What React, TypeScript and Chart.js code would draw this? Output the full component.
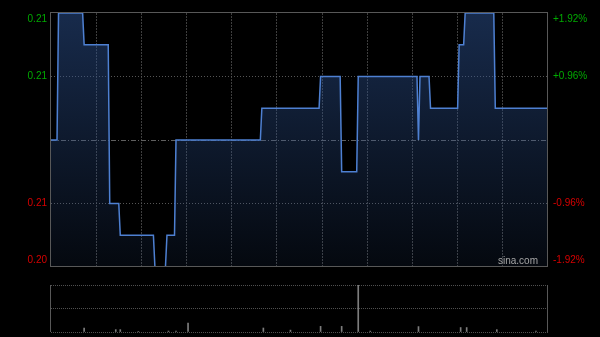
import React, { useEffect, useRef } from "react";
import { Chart, registerables } from "chart.js";
Chart.register(...registerables);

// ---- data ----
const BASE_PRICE = 0.208;
const SESSION_MINUTES = 330;
const TIME_GRID_STEP = 30;
const PRICE_TIMES = [0, 4, 5, 21, 22, 38, 39, 45, 46, 68, 69, 76, 77, 82, 83, 139, 140, 178, 179, 192, 193, 203, 204, 243, 244, 245, 251, 252, 270, 271, 274, 275, 294, 295, 330];
const PRICES = [0.208, 0.208, 0.212, 0.212, 0.211, 0.211, 0.206, 0.206, 0.205, 0.205, 0.204, 0.204, 0.205, 0.205, 0.208, 0.208, 0.209, 0.209, 0.21, 0.21, 0.207, 0.207, 0.21, 0.21, 0.208, 0.21, 0.21, 0.209, 0.209, 0.211, 0.211, 0.212, 0.212, 0.209, 0.209];
const PRICE_TICKS = [0.212, 0.21, 0.208, 0.206, 0.204];
const PRICE_LABELS = ["0.21", "0.21", "", "0.21", "0.20"];
const PCT_LABELS = ["+1.92%", "+0.96%", "", "-0.96%", "-1.92%"];
const VOL_TIMES = [22, 43, 46, 58, 78, 83, 91, 141, 159, 179, 193, 204, 212, 244, 272, 276, 296, 322];
const VOLUMES = [8.5, 5, 5, 1, 2, 2, 19, 8.5, 4, 12, 12, 100, 2, 11.5, 9.5, 9.5, 5, 2];
const VOL_MAX = 100;
const WATERMARK = "sina.com";

// ---- style ----
const FONT = '10px "Liberation Sans", Arial, sans-serif';
const UP = "rgb(0,170,0)";
const DOWN = "rgb(215,0,0)";
const BORDER = "rgb(88,88,88)";

export default function App() {
  const mainRef = useRef<HTMLCanvasElement | null>(null);
  const volRef = useRef<HTMLCanvasElement | null>(null);

  useEffect(() => {
    const mainPlugin = {
      id: "mainDeco",
      beforeDatasetsDraw(chart: any) {
        const { ctx, chartArea: a, scales } = chart;
        const y = Math.round(scales.y.getPixelForValue(BASE_PRICE)) + 0.5;
        ctx.save();
        ctx.strokeStyle = "rgb(95,95,95)";
        ctx.lineWidth = 1;
        ctx.setLineDash([5, 2, 1, 2]);
        ctx.beginPath();
        ctx.moveTo(a.left, y);
        ctx.lineTo(a.right, y);
        ctx.stroke();
        ctx.restore();
      },
      afterDraw(chart: any) {
        const { ctx, chartArea: a, scales } = chart;
        ctx.save();
        ctx.strokeStyle = BORDER;
        ctx.lineWidth = 1;
        ctx.setLineDash([]);
        ctx.strokeRect(a.left - 0.5, a.top - 0.5, a.right - a.left, a.bottom - a.top);
        ctx.font = FONT;
        ctx.textBaseline = "middle";
        PRICE_TICKS.forEach((v, i) => {
          let y = scales.y.getPixelForValue(v);
          y = Math.min(Math.max(y, a.top + 6), a.bottom - 7);
          const col = v > BASE_PRICE ? UP : DOWN;
          ctx.fillStyle = col;
          ctx.textAlign = "right";
          if (PRICE_LABELS[i]) ctx.fillText(PRICE_LABELS[i], a.left - 4, y);
          ctx.textAlign = "left";
          if (PCT_LABELS[i]) ctx.fillText(PCT_LABELS[i], a.right + 5, y);
        });
        ctx.fillStyle = "rgb(165,165,165)";
        ctx.textAlign = "right";
        ctx.fillText(WATERMARK, a.right - 10, a.bottom - 6);
        ctx.restore();
      },
    };

    const main = new Chart(mainRef.current as HTMLCanvasElement, {
      type: "line",
      data: {
        datasets: [
          {
            data: PRICE_TIMES.map((t, i) => ({ x: t, y: PRICES[i] })),
            borderColor: "rgb(78,128,210)",
            borderWidth: 1.5,
            pointRadius: 0,
            tension: 0,
            fill: "start",
            backgroundColor: (c: any) => {
              const a = c.chart.chartArea;
              if (!a) return "rgba(45,80,140,0.3)";
              const g = c.chart.ctx.createLinearGradient(0, a.top, 0, a.bottom);
              g.addColorStop(0, "rgba(45,82,145,0.52)");
              g.addColorStop(1, "rgba(45,82,145,0.1)");
              return g;
            },
          },
        ],
      },
      options: {
        animation: false,
        responsive: false,
        events: [],
        layout: { padding: { top: 13, bottom: 8, left: 0, right: 0 } },
        plugins: { legend: { display: false }, tooltip: { enabled: false } },
        scales: {
          x: {
            type: "linear",
            min: 0,
            max: SESSION_MINUTES,
            ticks: { display: false, stepSize: TIME_GRID_STEP },
            grid: {
              drawTicks: false,
              color: (c: any) =>
                c.tick && (c.tick.value === 0 || c.tick.value === SESSION_MINUTES) ? "rgba(0,0,0,0)" : "rgb(62,62,62)",
            },
            border: { display: false, dash: [2, 1] },
            afterFit: (s: any) => {
              s.height = 0;
            },
          },
          y: {
            position: "left",
            min: PRICE_TICKS[PRICE_TICKS.length - 1],
            max: PRICE_TICKS[0],
            ticks: { display: false, stepSize: 0.002 },
            grid: {
              drawTicks: false,
              color: (c: any) => {
                const v = c.tick ? c.tick.value : 0;
                if (Math.abs(v - BASE_PRICE) < 1e-6 || Math.abs(v - PRICE_TICKS[0]) < 1e-6 || Math.abs(v - PRICE_TICKS[4]) < 1e-6)
                  return "rgba(0,0,0,0)";
                return "rgb(85,85,85)";
              },
            },
            border: { display: false, dash: [1, 2] },
            afterFit: (s: any) => {
              s.width = 51;
            },
          },
          y2: {
            position: "right",
            min: PRICE_TICKS[PRICE_TICKS.length - 1],
            max: PRICE_TICKS[0],
            ticks: { display: false },
            grid: { display: false, drawTicks: false },
            border: { display: false },
            afterFit: (s: any) => {
              s.width = 52;
            },
          },
        },
      },
      plugins: [mainPlugin],
    });

    const volPlugin = {
      id: "volDeco",
      afterDraw(chart: any) {
        const { ctx, chartArea: a } = chart;
        ctx.save();
        ctx.strokeStyle = BORDER;
        ctx.lineWidth = 1;
        ctx.beginPath();
        ctx.moveTo(a.left - 0.5, a.top);
        ctx.lineTo(a.left - 0.5, a.bottom);
        ctx.moveTo(a.right - 0.5, a.top);
        ctx.lineTo(a.right - 0.5, a.bottom);
        ctx.stroke();
        ctx.restore();
      },
    };

    const vol = new Chart(volRef.current as HTMLCanvasElement, {
      type: "bar",
      data: {
        datasets: [
          {
            data: VOL_TIMES.map((t, i) => ({ x: t, y: VOLUMES[i] })),
            backgroundColor: "rgb(125,125,125)",
            barThickness: 1,
          },
        ],
      },
      options: {
        animation: false,
        responsive: false,
        events: [],
        layout: { padding: { top: 10, bottom: 5, left: 0, right: 0 } },
        plugins: { legend: { display: false }, tooltip: { enabled: false } },
        scales: {
          x: {
            type: "linear",
            min: 0,
            max: SESSION_MINUTES,
            offset: false,
            ticks: { display: false },
            grid: { display: false, drawTicks: false },
            border: { display: false },
            afterFit: (s: any) => {
              s.height = 0;
            },
          },
          y: {
            position: "left",
            min: 0,
            max: VOL_MAX,
            ticks: { display: false, stepSize: VOL_MAX / 2 },
            grid: { drawTicks: false, color: "rgb(80,80,80)" },
            border: { display: false, dash: [1, 1] },
            afterFit: (s: any) => {
              s.width = 51;
            },
          },
          y2: {
            position: "right",
            min: 0,
            max: VOL_MAX,
            ticks: { display: false },
            grid: { display: false, drawTicks: false },
            border: { display: false },
            afterFit: (s: any) => {
              s.width = 52;
            },
          },
        },
      },
      plugins: [volPlugin],
    });

    return () => {
      main.destroy();
      vol.destroy();
    };
  }, []);

  return (
    <div style={{ position: "fixed", left: 0, top: 0, width: 600, height: 337, background: "#000", overflow: "hidden" }}>
      <canvas ref={mainRef} width={600} height={275} style={{ position: "absolute", left: 0, top: 0, width: 600, height: 275 }} />
      <canvas ref={volRef} width={600} height={62} style={{ position: "absolute", left: 0, top: 275, width: 600, height: 62 }} />
    </div>
  );
}
